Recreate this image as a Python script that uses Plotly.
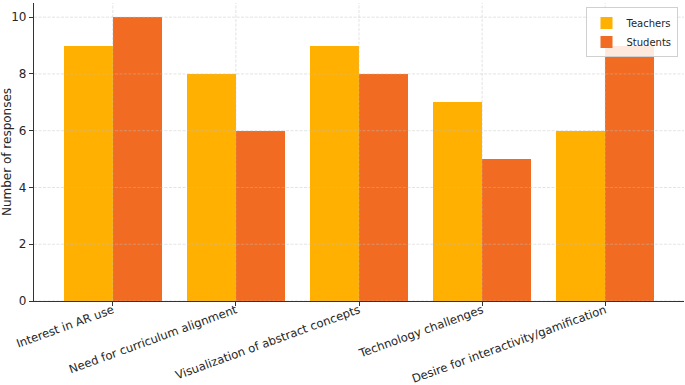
import plotly.graph_objects as go

categories = ["Interest in AR use", "Need for curriculum alignment",
              "Visualization of abstract concepts", "Technology challenges",
              "Desire for interactivity/gamification"]
teachers = [9, 8, 9, 7, 6]
students = [10, 6, 8, 5, 9]
y_ticks = [0, 2, 4, 6, 8, 10]

font = dict(family="DejaVu Sans", size=12, color="#262626")
x_idx = list(range(len(categories)))
w = 0.4
fig = go.Figure()
fig.add_bar(x=[i - w / 2 for i in x_idx], y=teachers, width=w, name="Teachers",
            marker=dict(color="#FFB000", line=dict(width=0)))
fig.add_bar(x=[i + w / 2 for i in x_idx], y=students, width=w, name="Students",
            marker=dict(color="#F26B22", line=dict(width=0)))

grid = dict(color="rgba(190,190,190,0.55)", width=0.8, dash="3px,1.5px")
for yv in y_ticks:
    fig.add_shape(type="line", xref="paper", yref="y", x0=0, x1=1, y0=yv, y1=yv,
                  line=grid, layer="above")
for xv in x_idx:
    fig.add_shape(type="line", xref="x", yref="paper", x0=xv, x1=xv, y0=0, y1=1,
                  line=grid, layer="above")

fig.update_layout(
    width=685, height=385,
    margin=dict(l=34, r=1, t=3, b=84),
    paper_bgcolor="white", plot_bgcolor="white",
    font=font, barmode="overlay", bargap=0,
    legend=dict(x=0.99, y=0.985, xanchor="right", yanchor="top",
                bgcolor="rgba(255,255,255,0.85)", bordercolor="#d0d0d0", borderwidth=1,
                font=dict(family="DejaVu Sans", size=10, color="#262626"),
                itemwidth=30, tracegroupgap=0),
    showlegend=True,
)
fig.update_xaxes(
    range=[-0.64, 4.64], tickmode="array", tickvals=x_idx, ticktext=categories,
    tickangle=-20, ticks="outside", ticklen=4, tickcolor="#333",
    tickfont=dict(family="DejaVu Sans", size=11.6, color="#262626"),
    ticklabelstandoff=-7,
    showline=True, linecolor="#333", linewidth=1.2,
    showgrid=False, zeroline=False, automargin=False,
)
fig.update_yaxes(
    range=[0, 10.5], tickmode="array", tickvals=y_ticks,
    ticks="outside", ticklen=4, tickcolor="#333",
    showline=True, linecolor="#333", linewidth=1.2,
    showgrid=False, zeroline=False, automargin=False,
    title=dict(text="Number of responses", font=font, standoff=4),
)
fig.write_html("out.html", config={"displayModeBar": False},
               post_script="document.body.style.margin='0';document.body.style.overflow='hidden';")
